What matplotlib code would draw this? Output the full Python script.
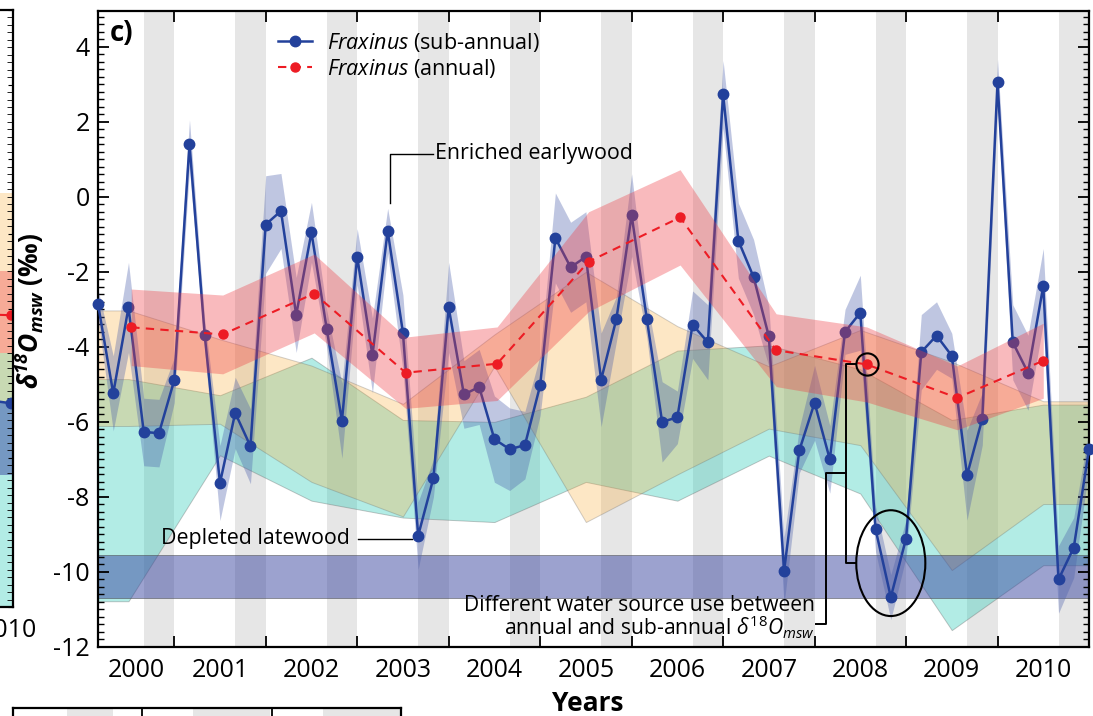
import matplotlib
matplotlib.use('Agg')
import matplotlib.pyplot as plt
import numpy as np
from matplotlib.patches import Ellipse
from matplotlib.ticker import MultipleLocator, FixedLocator, FixedFormatter, NullFormatter

plt.rcParams.update({
    'font.family': 'Open Sans',
    'mathtext.fontset': 'custom',
    'mathtext.rm': 'Open Sans',
    'mathtext.it': 'Open Sans:italic',
    'mathtext.bf': 'Open Sans:bold:italic',
    'axes.unicode_minus': False,
})

# ---- Fraxinus sub-annual d18O of source water (six slices per ring) ----
sub_t = 2000 + np.arange(1, 67) / 6
sub = np.array([
    -2.86, -5.24, -2.95, -6.27, -6.30, -4.89, 1.40, -3.69, -7.63, -5.76,
    -6.65, -0.74, -0.38, -3.15, -0.95, -3.52, -5.97, -1.60, -4.23, -0.91,
    -3.62, -9.03, -7.50, -2.95, -5.27, -5.07, -6.46, -6.73, -6.62, -5.03,
    -1.10, -1.88, -1.60, -4.88, -3.26, -0.49, -3.26, -6.00, -5.88, -3.41,
    -3.88, 2.73, -1.17, -2.14, -3.72, -9.97, -6.76, -5.49, -7.00, -3.60,
    -3.09, -8.86, -10.67, -9.11, -4.14, -3.70, -4.24, -7.42, -5.92, 3.06,
    -3.88, -4.69, -2.38, -10.20, -9.35, -6.73])
sub_err = np.array([
    0.4, 1.0, 1.2, 0.9, 0.9, 0.6, 0.65, 0.4, 1.0, 0.95,
    1.0, 1.3, 1.0, 1.0, 0.8, 0.5, 1.0, 0.75, 1.0, 0.6,
    1.0, 0.9, 0.5, 1.2, 0.9, 1.0, 1.15, 1.1, 0.9, 0.8,
    1.2, 1.2, 1.2, 1.25, 0.6, 1.1, 0.5, 1.07, 0.7, 0.9,
    1.0, 0.9, 1.0, 1.0, 0.8, 0.9, 0.6, 1.0, 0.9, 0.6,
    1.0, 0.6, 0.6, 0.5, 1.0, 0.9, 0.6, 1.2, 0.7, 0.6,
    1.0, 1.0, 1.0, 0.9, 0.8, 0.5])

# ---- Fraxinus annual (whole ring) ----
annual_t = np.array([2000.53, 2001.53, 2002.53, 2003.53, 2004.53, 2005.53,
                     2006.53, 2007.58, 2008.57, 2009.56, 2010.50])
annual = np.array([-3.48, -3.67, -2.58, -4.69, -4.45, -1.73,
                   -0.55, -4.09, -4.47, -5.36, -4.37])
annual_err = np.array([1.02, 1.05, 1.05, 0.95, 0.98, 1.33,
                       1.27, 0.97, 1.00, 0.85, 1.00])

# ---- potential water sources (annual envelopes) ----
src_t = np.arange(2000.5, 2011, 1.0)
peach_hi = np.array([-3.03, -3.80, -4.50, -5.52, -3.67, -2.00, -3.45, -4.52, -3.55, -4.40, -5.45])
peach_lo = np.array([-6.11, -6.05, -7.60, -8.52, -4.52, -8.67, -7.40, -6.18, -6.62, -9.95, -8.19])
cyan_hi = np.array([-4.86, -5.29, -4.29, -5.95, -6.00, -5.33, -4.10, -3.96, -4.60, -5.95, -5.54])
cyan_lo = np.array([-10.78, -6.89, -8.10, -8.55, -8.67, -7.60, -8.10, -6.90, -7.91, -11.55, -9.82])
gw_range = (-10.69, -9.54)

years = np.arange(2000, 2011)

# neighbouring panels (only their edges fall inside this figure)
b_t = np.array([2009.55, 2010.55])
b_annual = np.array([-4.10, -4.18])
b_sub = np.array([-6.20, -6.54])
b_peach = (-6.5, -0.9)
b_red = (-5.2, -3.0)
b_cyan = (-12.0, -5.2)
b_blue = (-8.45, -6.5)
d_shade = [(0.42, 0.775), (1.39, 1.99), (2.40, 3.0)]

fig = plt.figure(figsize=(10.93, 7.16), dpi=100)
ax = fig.add_axes([98 / 1093, 69 / 716, 991 / 1093, 636 / 716])

x0, x1 = sub_t[0], 2011.0
ax.set_xlim(x0, x1)
ax.set_ylim(-12, 4.95)

# latewood shading
for yr in years:
    ax.axvspan(yr + 2 / 3, yr + 1, color='#e6e6e6', lw=0, zorder=0)

tx = np.r_[x0, src_t, x1]
pad = lambda a: np.r_[a[0], a, a[-1]]
ax.fill_between(tx, pad(cyan_lo), pad(cyan_hi), facecolor='#2ECDB9', edgecolor='#666666',
                alpha=0.37, lw=0.7, zorder=1)
ax.fill_between(tx, pad(peach_lo), pad(peach_hi), facecolor='#FBB040', edgecolor='#666666',
                alpha=0.30, lw=0.7, zorder=1.1)
ax.axhspan(*gw_range, facecolor='#3A46A0', edgecolor='#444444', alpha=0.5, lw=0.7, zorder=1.2)

ax.fill_between(sub_t, sub - sub_err, sub + sub_err, color='#4A5EAA', alpha=0.35, lw=0, zorder=2)
l_sub, = ax.plot(sub_t, sub, '-o', color='#23419B', lw=1.8, ms=7.5, zorder=3, clip_on=False,
                 label=r'$\it{Fraxinus}$ (sub-annual)')
ax.fill_between(annual_t, annual - annual_err, annual + annual_err, color='#EE3B43',
                alpha=0.35, lw=0, zorder=4)
l_ann, = ax.plot(annual_t, annual, '--o', color='#ED1C24', lw=1.5, ms=6.5, dashes=(4, 3),
                 zorder=5, label=r'$\it{Fraxinus}$ (annual)')

# axes, ticks
ax.xaxis.set_major_locator(FixedLocator(years[1:]))
ax.xaxis.set_major_formatter(NullFormatter())
lab_pos = [(max(y, x0) + min(y + 1, x1)) / 2 for y in years]
ax.xaxis.set_minor_locator(FixedLocator(lab_pos))
ax.xaxis.set_minor_formatter(FixedFormatter([str(y) for y in years]))
ax.yaxis.set_major_locator(MultipleLocator(2))
ax.yaxis.set_minor_locator(MultipleLocator(0.2))
ax.tick_params(which='major', direction='in', length=8, width=1.3, top=True, right=True,
               labelsize=18)
ax.tick_params(axis='x', which='minor', length=0, labelsize=18, pad=8)
ax.tick_params(axis='y', which='minor', direction='in', length=4, width=1, right=True)
ax.tick_params(axis='y', which='major', pad=6)
for s in ax.spines.values():
    s.set_linewidth(1.6)

ax.set_ylabel(r'$\mathbf{δ^{18}O_{msw}}$ (‰)', fontsize=19, fontweight='bold')
ax.yaxis.set_label_coords(-0.0525, 0.528)
ax.set_xlabel('Years', fontsize=19, fontweight='bold')
ax.xaxis.set_label_coords(0.494, -0.0675)

ax.text(0.012, 0.965, 'c)', transform=ax.transAxes, fontsize=20, fontweight='bold',
        va='center', ha='left', zorder=6)

ax.legend(handles=[l_sub, l_ann], loc='upper left', bbox_to_anchor=(0.1816, 0.969),
          frameon=False, fontsize=15.5, handlelength=1.6, handletextpad=0.7,
          labelspacing=0.15, borderpad=0, borderaxespad=0)

# annotations
ex = sub_t[19] + 0.02
ax.plot([ex, ex, ex + 0.47], [-0.18, 1.15, 1.15], color='k', lw=1, zorder=6)
ax.text(ex + 0.5, 1.15, 'Enriched earlywood', fontsize=15.4, va='center', ha='left', zorder=6)

ax.plot([2003.01, sub_t[21] - 0.07], [-9.12, -9.12], color='k', lw=1, zorder=6)
ax.text(2002.92, -9.12, 'Depleted latewood', fontsize=15.4, va='center', ha='right', zorder=6)

ax.plot(annual_t[8], annual[8], 'o', mfc='none', mec='k', mew=1.5, ms=16, zorder=6)
ell_x = sub_t[52]
ell_y = (sub[51] + sub[52]) / 2
ax.add_patch(Ellipse((ell_x, ell_y), 0.755, 2.82, fill=False, ec='k', lw=1.5, zorder=6))
bx = 2008.342
ax.plot([annual_t[8] - 0.12, bx, bx, ell_x - 0.378], [annual[8], annual[8], ell_y, ell_y],
        color='k', lw=1.4, zorder=6)
bx2 = 2008.123
ax.plot([bx, bx2, bx2, 2008.02], [-7.36, -7.36, -11.39, -11.39], color='k', lw=1.4, zorder=6)
ax.text(2008.0, -11.22, 'Different water source use between\nannual and sub-annual '
        r'$δ^{18}O_{msw}$', fontsize=15.2, ha='right', va='center', multialignment='right',
        linespacing=0.88, zorder=6)

# edge of panel b on the left
axb = fig.add_axes([(12.7 - 400) / 1093, 109 / 716, 400 / 1093, 597 / 716])
axb.set_xlim(2006.2, 2010.57)
axb.set_ylim(-12, 4)
axb.axhspan(*b_cyan, color='#2ECDB9', alpha=0.37, lw=0)
axb.axhspan(*b_peach, color='#FBB040', alpha=0.30, lw=0)
axb.axhspan(*b_blue, color='#3A46A0', alpha=0.5, lw=0)
axb.axhspan(*b_red, color='#EE3B43', alpha=0.35, lw=0)
axb.plot(b_t, b_sub, '-o', color='#23419B', lw=1.8, ms=7.5)
axb.plot(b_t, b_annual, '--o', color='#ED1C24', lw=1.5, ms=6.5, dashes=(4, 3))
axb.set_xticks([2010.52])
axb.set_xticklabels(['2010'])
axb.yaxis.set_major_locator(MultipleLocator(2))
axb.yaxis.set_minor_locator(MultipleLocator(0.2))
axb.tick_params(which='both', direction='in', right=True, left=False, labelleft=False,
                labelsize=18, pad=8)
axb.tick_params(axis='x', length=0)
axb.tick_params(which='minor', length=4)
for s in axb.spines.values():
    s.set_linewidth(1.6)

# top edge of panel d below
axd = fig.add_axes([12.7 / 1093, -0.3, 388.3 / 1093, 0.3 + 8 / 716])
axd.set_xlim(0, 3)
for a, b in d_shade:
    axd.axvspan(a, b, color='#e6e6e6', lw=0)
axd.set_xticks([1, 2])
axd.tick_params(direction='in', length=8, width=1.3, top=True, bottom=False,
                labelbottom=False, left=False, labelleft=False)
for s in axd.spines.values():
    s.set_linewidth(1.6)

fig.savefig('out.png', dpi=100)
